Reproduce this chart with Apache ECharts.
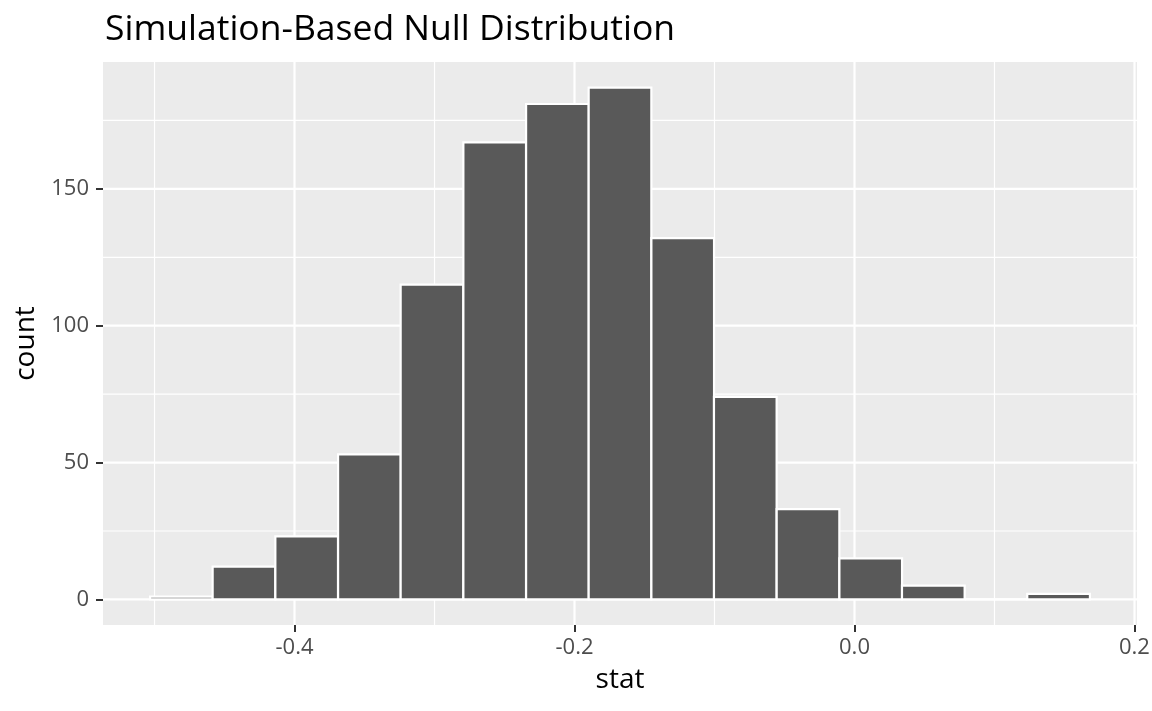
<!DOCTYPE html>
<html>
<head>
<meta charset="utf-8">
<script src="https://cdn.jsdelivr.net/npm/echarts@6/dist/echarts.min.js"></script>
<style>
  html, body { margin: 0; padding: 0; background: #fff; }
  #chart { width: 1152px; height: 711px; }
</style>
</head>
<body>
<div id="chart"></div>
<script>
// histogram bins (centers) and counts
const binCenters = [-0.4808, -0.4361, -0.3913, -0.3465, -0.3018, -0.2570, -0.2122, -0.1675,
  -0.1227, -0.0780, -0.0332, 0.0116, 0.0563, 0.1011, 0.1458];
const counts = [1, 12, 23, 53, 115, 167, 181, 187, 132, 74, 33, 15, 5, 0, 2];
const binWidth = 0.04476;

const xTicks = [-0.4, -0.2, 0.0, 0.2];
const xMinor = [-0.5, -0.3, -0.1, 0.1];
const yTicks = [0, 50, 100, 150];
const yMinor = [25, 75, 125, 175];

const xRange = [-0.5368, 0.2018];
const yRange = [-9.35, 196.35];

const font = '"Open Sans", "Noto Sans", sans-serif';
const chart = echarts.init(document.getElementById('chart'));

function gridLines(values, vertical, width) {
  return {
    type: 'custom',
    silent: true,
    z: 1,
    data: values.map(v => (vertical ? [v, 0] : [0, v])),
    renderItem: function (params, api) {
      let p1, p2;
      if (vertical) {
        p1 = api.coord([api.value(0), yRange[0]]);
        p2 = api.coord([api.value(0), yRange[1]]);
      } else {
        p1 = api.coord([xRange[0], api.value(1)]);
        p2 = api.coord([xRange[1], api.value(1)]);
      }
      return {
        type: 'line',
        shape: { x1: p1[0], y1: p1[1], x2: p2[0], y2: p2[1] },
        style: { stroke: '#ffffff', lineWidth: width }
      };
    }
  };
}

const axisLabelStyle = { color: '#4D4D4D', fontSize: 22, fontFamily: font };
const tickStyle = { show: true, inside: false, length: 7, lineStyle: { color: '#333333', width: 2 } };

chart.setOption({
  animation: false,
  title: {
    text: 'Simulation-Based Null Distribution',
    left: 100,
    top: 7,
    textStyle: { fontFamily: font, fontSize: 35.5, fontWeight: 'normal', color: '#000' }
  },
  grid: {
    left: 103, right: 15, top: 62, bottom: 86,
    show: true, backgroundColor: '#EBEBEB', borderWidth: 0,
    containLabel: false, outerBoundsMode: 'none'
  },
  xAxis: {
    type: 'value',
    min: xRange[0], max: xRange[1],
    name: 'stat',
    nameLocation: 'middle',
    nameGap: 41,
    nameTextStyle: { color: '#000', fontSize: 28, fontFamily: font },
    axisLine: { show: false, onZero: false },
    axisTick: Object.assign({ customValues: xTicks }, tickStyle),
    axisLabel: Object.assign({ customValues: xTicks, margin: 12,
      formatter: v => v.toFixed(1) }, axisLabelStyle),
    splitLine: { show: false }
  },
  yAxis: {
    type: 'value',
    min: yRange[0], max: yRange[1],
    name: 'count',
    nameLocation: 'middle',
    nameGap: 62,
    nameRotate: 90,
    nameTextStyle: { color: '#000', fontSize: 28, fontFamily: font },
    axisLine: { show: false, onZero: false },
    axisTick: Object.assign({ customValues: yTicks }, tickStyle),
    axisLabel: Object.assign({ customValues: yTicks, margin: 14,
      formatter: v => String(Math.round(v)) }, axisLabelStyle),
    splitLine: { show: false }
  },
  series: [
    gridLines(xMinor, true, 1.2),
    gridLines(yMinor, false, 1.2),
    gridLines(xTicks, true, 2.2),
    gridLines(yTicks, false, 2.2),
    {
      type: 'custom',
      z: 2,
      data: binCenters.map((c, i) => [c, counts[i]]),
      renderItem: function (params, api) {
        const c = api.value(0);
        const n = api.value(1);
        const tl = api.coord([c - binWidth / 2, n]);
        const br = api.coord([c + binWidth / 2, 0]);
        return {
          type: 'rect',
          shape: { x: tl[0], y: tl[1], width: br[0] - tl[0], height: br[1] - tl[1] },
          style: { fill: '#595959', stroke: '#ffffff', lineWidth: 2.2 }
        };
      }
    }
  ]
});
</script>
</body>
</html>
